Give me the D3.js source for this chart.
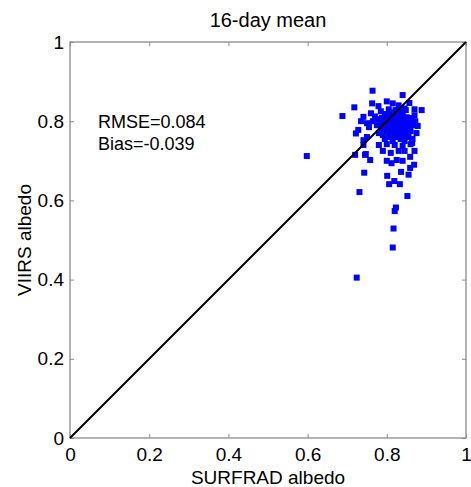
<!DOCTYPE html>
<html><head><meta charset="utf-8">
<script src="https://cdn.jsdelivr.net/npm/d3@7"></script>
<style>body{margin:0;background:#fff}svg{display:block}text{font-family:Arial,"Liberation Sans",sans-serif;fill:#000}</style>
</head><body><svg id="c" width="471" height="487"></svg>
<script>
const title = "16-day mean";
const xLabel = "SURFRAD albedo";
const yLabel = "VIIRS albedo";
const stats = ["RMSE=0.084", "Bias=-0.039"];
const tickValues = [0, 0.2, 0.4, 0.6, 0.8, 1];
const tickLabels = ["0", "0.2", "0.4", "0.6", "0.8", "1"];
const surfrad = [
 0.764,0.840,0.763,0.779,0.718,0.688,0.800,0.815,0.830,0.857,0.888,0.845,0.870,
 0.741,0.735,0.750,0.760,0.770,0.785,0.795,0.805,0.755,0.765,
 0.780,0.790,0.800,0.810,0.820,0.830,0.840,0.850,0.860,0.870,
 0.775,0.785,0.795,0.805,0.815,0.825,0.835,0.845,0.855,0.865,
 0.780,0.790,0.800,0.810,0.820,0.830,0.840,0.850,0.860,0.875,
 0.795,0.805,0.815,0.825,0.835,0.845,0.855,0.865,
 0.812,0.822,0.832,0.848,0.826,0.816,0.838,0.806,0.796,0.786,
 0.818,0.828,0.808,0.842,0.852,0.862,0.872,0.878,
 0.820,0.840,0.860,0.800,
 0.803,0.813,0.823,0.833,0.843,0.853,0.798,0.808,0.828,0.838,0.848,0.858,0.788,0.818,0.834,0.844,0.811,0.824,0.791,0.856,
 0.728,0.722,0.741,0.750,0.741,0.745,0.720,0.747,0.758,0.743,0.731,0.724,0.598,
 0.812,0.825,0.801,0.806,0.819,0.833,0.852,0.823,0.820,0.817,0.815,0.859,0.864,0.859,0.869,0.845,0.830,0.810,0.790,0.800,0.840,0.855,0.836,0.780,0.870
];
const viirs = [
 0.877,0.866,0.845,0.838,0.835,0.813,0.850,0.845,0.840,0.846,0.828,0.832,0.830,
 0.811,0.800,0.795,0.820,0.812,0.825,0.818,0.830,0.785,0.800,
 0.805,0.795,0.810,0.800,0.815,0.805,0.820,0.810,0.800,0.815,
 0.790,0.780,0.785,0.790,0.785,0.795,0.790,0.795,0.785,0.790,
 0.770,0.765,0.775,0.770,0.775,0.770,0.775,0.770,0.775,0.770,
 0.755,0.760,0.750,0.760,0.755,0.750,0.760,0.755,
 0.822,0.828,0.825,0.828,0.812,0.806,0.808,0.815,0.803,0.795,
 0.795,0.785,0.780,0.782,0.797,0.808,0.800,0.788,
 0.740,0.738,0.742,0.742,
 0.798,0.792,0.802,0.796,0.802,0.790,0.792,0.771,0.778,0.765,0.762,0.781,0.808,0.762,0.812,0.766,0.778,0.788,0.775,0.806,
 0.778,0.769,0.752,0.760,0.740,0.715,0.715,0.717,0.702,0.670,0.621,0.405,0.712,
 0.694,0.702,0.662,0.641,0.649,0.641,0.611,0.582,0.573,0.529,0.481,0.682,0.745,0.710,0.690,0.725,0.725,0.720,0.725,0.700,0.700,0.665,0.672,0.740,0.725
];
const points = surfrad.map((v, i) => ({x: v, y: viirs[i]}));

const svg = d3.select("#c");
const L = 70, R = 466, T = 42, B = 438;
const x = d3.scaleLinear().domain([0, 1]).range([L, R]);
const y = d3.scaleLinear().domain([0, 1]).range([B, T]);
const axisColor = "#8c8c8c";
const fmt = d => tickLabels[tickValues.indexOf(d)];

function styleAxis(g, showLabels) {
  g.select(".domain").remove();
  g.selectAll(".tick line").attr("stroke", axisColor).attr("stroke-width", 1);
  if (showLabels) g.selectAll(".tick text").style("font-size", "19px").attr("fill", "#000");
  else g.selectAll(".tick text").remove();
}
const gb = svg.append("g").attr("transform", `translate(0,${B})`)
  .call(d3.axisBottom(x).tickValues(tickValues).tickFormat(fmt).tickSizeInner(-4).tickSizeOuter(0).tickPadding(10));
styleAxis(gb, true);
const gt = svg.append("g").attr("transform", `translate(0,${T})`)
  .call(d3.axisTop(x).tickValues(tickValues).tickSizeInner(-4).tickSizeOuter(0));
styleAxis(gt, false);
const gl = svg.append("g").attr("transform", `translate(${L},0)`)
  .call(d3.axisLeft(y).tickValues(tickValues).tickFormat(fmt).tickSizeInner(-4).tickSizeOuter(0).tickPadding(6));
styleAxis(gl, true);
const gr = svg.append("g").attr("transform", `translate(${R},0)`)
  .call(d3.axisRight(y).tickValues(tickValues).tickSizeInner(-4).tickSizeOuter(0));
styleAxis(gr, false);

svg.append("rect").attr("x", L).attr("y", T).attr("width", R - L).attr("height", B - T)
  .attr("fill", "none").attr("stroke", axisColor).attr("stroke-width", 1.3);

const sz = 6;
svg.append("g").selectAll("rect").data(points).join("rect")
  .attr("x", d => x(d.x) - sz / 2).attr("y", d => y(d.y) - sz / 2)
  .attr("width", sz).attr("height", sz).attr("fill", "#0000ff");

svg.append("line").attr("x1", x(0)).attr("y1", y(0)).attr("x2", x(1)).attr("y2", y(1))
  .attr("stroke", "#000").attr("stroke-width", 2);

svg.append("text").attr("x", (L + R) / 2).attr("y", 27).attr("text-anchor", "middle")
  .style("font-size", "20px").text(title);
svg.append("text").attr("x", (L + R) / 2).attr("y", 484).attr("text-anchor", "middle")
  .style("font-size", "19px").text(xLabel);
svg.append("text").attr("transform", `translate(31,${(T + B) / 2}) rotate(-90)`).attr("text-anchor", "middle")
  .style("font-size", "19px").text(yLabel);
svg.append("g").selectAll("text").data(stats).join("text")
  .attr("x", 98).attr("y", (d, i) => 128 + i * 22).style("font-size", "18px").text(d => d);
</script></body></html>
